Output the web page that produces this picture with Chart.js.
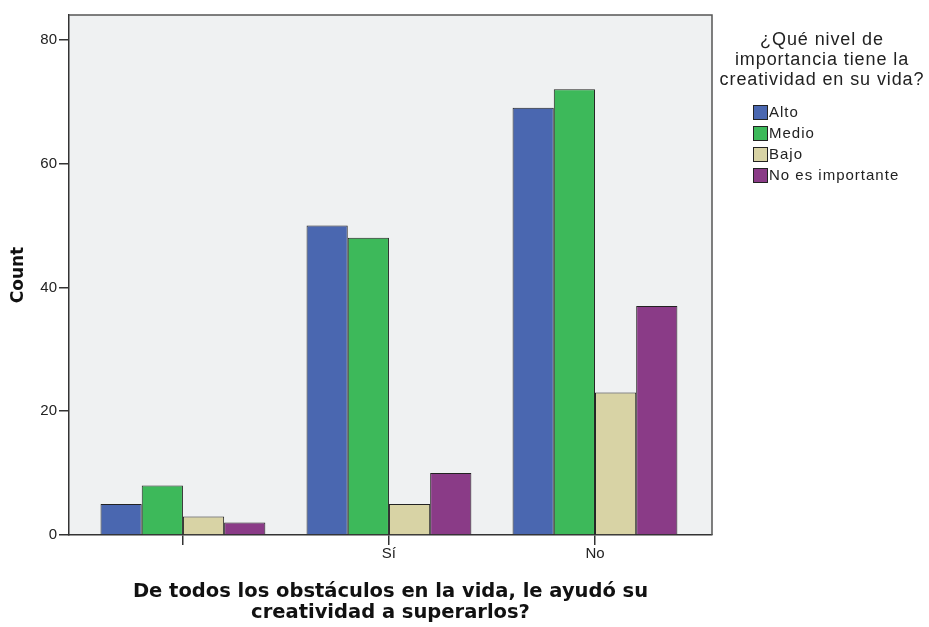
<!DOCTYPE html>
<html lang="es">
<head>
  <meta charset="UTF-8">
  <title>Creatividad</title>
  <script src="https://cdn.jsdelivr.net/npm/chart.js"></script>
  <style>
    html, body { margin: 0; padding: 0; background: #fff; }
    #wrap { width: 929px; height: 627px; }
  </style>
</head>
<body>
  <div id="wrap"><canvas id="chart" width="929" height="627"></canvas></div>
  <script>
    const categories = ['', 'Sí', 'No'];
    const alto = [5, 50, 69];
    const medio = [8, 48, 72];
    const bajo = [3, 5, 23];
    const noImportante = [2, 10, 37];
    const seriesNames = ['Alto', 'Medio', 'Bajo', 'No es importante'];
    const yTicks = [0, 20, 40, 60, 80];
    const legendTitle = ['¿Qué nivel de', 'importancia tiene la', 'creatividad en su vida?'];

    const colors = ['#4a67b0', '#3db95a', '#d8d3a5', '#8a3b87'];
    const font = '"Liberation Sans", Arial, sans-serif';
    const boldFont = '"DejaVu Sans", Verdana, sans-serif';

    function toPoints(arr) {
      return arr.map((v, i) => ({ x: i + 1, y: v }));
    }

    // plot background + frame
    const plotBox = {
      id: 'plotBox',
      beforeDraw(chart) {
        const a = chart.chartArea, ctx = chart.ctx;
        ctx.save();
        ctx.fillStyle = '#eff1f2';
        ctx.fillRect(a.left, a.top, a.right - a.left, a.bottom - a.top);
        ctx.restore();
      },
      afterDatasetsDraw(chart) {
        const a = chart.chartArea, ctx = chart.ctx;
        ctx.save();
        ctx.strokeStyle = '#555';
        ctx.lineWidth = 1.5;
        ctx.beginPath();
        ctx.moveTo(a.left, a.top);
        ctx.lineTo(a.right, a.top);
        ctx.lineTo(a.right, a.bottom);
        ctx.stroke();
        ctx.restore();
      }
    };

    // legend on the right with a 3 line title
    const sideLegend = {
      id: 'sideLegend',
      afterDraw(chart) {
        const ctx = chart.ctx;
        ctx.save();
        ctx.fillStyle = '#222';
        ctx.font = '18px ' + font;
        ctx.letterSpacing = '0.9px';
        ctx.textAlign = 'center';
        ctx.textBaseline = 'middle';
        legendTitle.forEach((t, i) => ctx.fillText(t, 822, 40 + i * 20));
        ctx.font = '15px ' + font;
        ctx.letterSpacing = '1px';
        ctx.textAlign = 'left';
        chart.data.datasets.forEach((ds, i) => {
          const y = 112 + i * 21;
          ctx.fillStyle = ds.backgroundColor;
          ctx.fillRect(753, y - 7, 14, 14);
          ctx.strokeStyle = '#222';
          ctx.lineWidth = 1;
          ctx.strokeRect(753.5, y - 6.5, 14, 14);
          ctx.fillStyle = '#222';
          ctx.fillText(ds.label, 769, y + 1);
        });
        ctx.restore();
      }
    };

    const allSeries = [alto, medio, bajo, noImportante];

    new Chart(document.getElementById('chart'), {
      type: 'bar',
      data: {
        datasets: allSeries.map((s, i) => ({
          label: seriesNames[i],
          data: toPoints(s),
          backgroundColor: colors[i],
          borderColor: '#222',
          borderWidth: 1,
          categoryPercentage: 0.8,
          barPercentage: 1.0
        }))
      },
      options: {
        responsive: false,
        animation: false,
        layout: { padding: { top: 15, right: 217, left: 0, bottom: 0 } },
        plugins: { legend: { display: false }, tooltip: { enabled: false } },
        scales: {
          x: {
            type: 'linear',
            offset: false,
            min: 0.447,
            max: 3.568,
            afterBuildTicks: s => { s.ticks = categories.map((c, i) => ({ value: i + 1 })); },
            afterFit: s => { s.height = 92; },
            ticks: {
              callback: (v) => categories[v - 1] ?? '',
              font: { family: font, size: 15 },
              color: '#222',
              padding: 0,
              maxRotation: 0
            },
            grid: { offset: false, drawOnChartArea: false, tickLength: 10, color: '#333', lineWidth: 1.5 },
            border: { display: true, color: '#333', width: 1.5 },
            title: {
              display: true,
              text: ['De todos los obstáculos en la vida, le ayudó su', 'creatividad a superarlos?'],
              font: { family: boldFont, size: 19.5, weight: 'bold', lineHeight: 1.1 },
              color: '#111',
              padding: { top: 0, bottom: 3 }
            }
          },
          y: {
            min: 0,
            max: 84,
            afterBuildTicks: s => { s.ticks = yTicks.map(v => ({ value: v })); },
            afterFit: s => { s.width = 69; },
            ticks: {
              font: { family: font, size: 15 },
              color: '#222',
              padding: 2
            },
            grid: { drawOnChartArea: false, tickLength: 10, color: '#333', lineWidth: 1.5 },
            border: { display: true, color: '#333', width: 1.5 },
            title: {
              display: true,
              text: 'Count',
              font: { family: boldFont, size: 17, weight: 'bold' },
              color: '#111',
              padding: { top: 8, bottom: 0 }
            }
          }
        }
      },
      plugins: [plotBox, sideLegend]
    });
  </script>
</body>
</html>
